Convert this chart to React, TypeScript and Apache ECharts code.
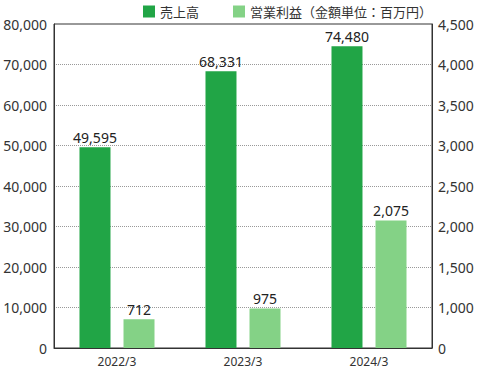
import React, { useEffect, useRef } from "react";
import * as echarts from "echarts";

const categories = ["2022/3", "2023/3", "2024/3"];
const salesValues = [49595, 68331, 74480];
const profitValues = [712, 975, 2075];
const seriesNames = ["売上高", "営業利益（金額単位：百万円）"];

// The right axis is piecewise: 0→1,000 spans one interval, then 500 per interval.
const toRightAxis = (v: number) => (v <= 1000 ? v / 2 : v - 500);
const fromRightAxis = (v: number) => (v === 0 ? 0 : v + 500);

const FONT = "'Noto Sans', 'Noto Sans CJK JP', sans-serif";
const fmt = (n: number) => n.toLocaleString("en-US");

export default function App() {
  const ref = useRef<HTMLDivElement>(null);
  useEffect(() => {
    if (!ref.current) return;
    const chart = echarts.init(ref.current, undefined, { renderer: "svg" });
    chart.setOption({
      animation: false,
      textStyle: { fontFamily: FONT },
      legend: {
        right: 40,
        top: 0,
        itemWidth: 12,
        itemHeight: 12,
        itemGap: 34,
        icon: "rect",
        textStyle: { fontSize: 13, color: "#333", fontFamily: FONT },
        data: seriesNames,
      },
      grid: {
        left: 54,
        right: 45,
        top: 24,
        bottom: 21,
        show: true,
        borderColor: "#333",
        borderWidth: 1,
      },
      xAxis: {
        type: "category",
        data: categories,
        axisLine: { lineStyle: { color: "#333" } },
        axisTick: { show: false },
        axisLabel: { color: "#333", fontSize: 12, margin: 7, fontFamily: FONT },
      },
      yAxis: [
        {
          type: "value",
          min: 0,
          max: 80000,
          interval: 10000,
          axisLine: { show: true, lineStyle: { color: "#333" } },
          axisTick: { show: false },
          axisLabel: {
            color: "#333",
            fontSize: 14,
            margin: 7,
            fontFamily: FONT,
            formatter: (v: number) => fmt(v),
          },
          splitLine: { lineStyle: { type: "dotted", color: "#999" } },
        },
        {
          type: "value",
          min: 0,
          max: 4000,
          interval: 500,
          axisLine: { show: true, lineStyle: { color: "#333" } },
          axisTick: { show: false },
          axisLabel: {
            color: "#333",
            fontSize: 14,
            margin: 6,
            fontFamily: FONT,
            formatter: (v: number) => fmt(fromRightAxis(v)),
          },
          splitLine: { show: false },
        },
      ],
      series: [
        {
          name: seriesNames[0],
          type: "bar",
          yAxisIndex: 0,
          data: salesValues,
          barWidth: 31,
          barGap: "42%",
          itemStyle: { color: "#21a546" },
          label: {
            show: true,
            position: "top",
            distance: 3,
            color: "#222",
            fontSize: 14,
            fontFamily: FONT,
            formatter: (p: any) => fmt(salesValues[p.dataIndex]),
          },
        },
        {
          name: seriesNames[1],
          type: "bar",
          yAxisIndex: 1,
          data: profitValues.map(toRightAxis),
          barWidth: 31,
          itemStyle: { color: "#84d286" },
          label: {
            show: true,
            position: "top",
            distance: 3,
            color: "#222",
            fontSize: 14,
            fontFamily: FONT,
            formatter: (p: any) => fmt(profitValues[p.dataIndex]),
          },
        },
      ],
    });
    return () => chart.dispose();
  }, []);
  return <div ref={ref} style={{ width: 477, height: 369, position: "absolute", left: 0, top: 0 }} />;
}
